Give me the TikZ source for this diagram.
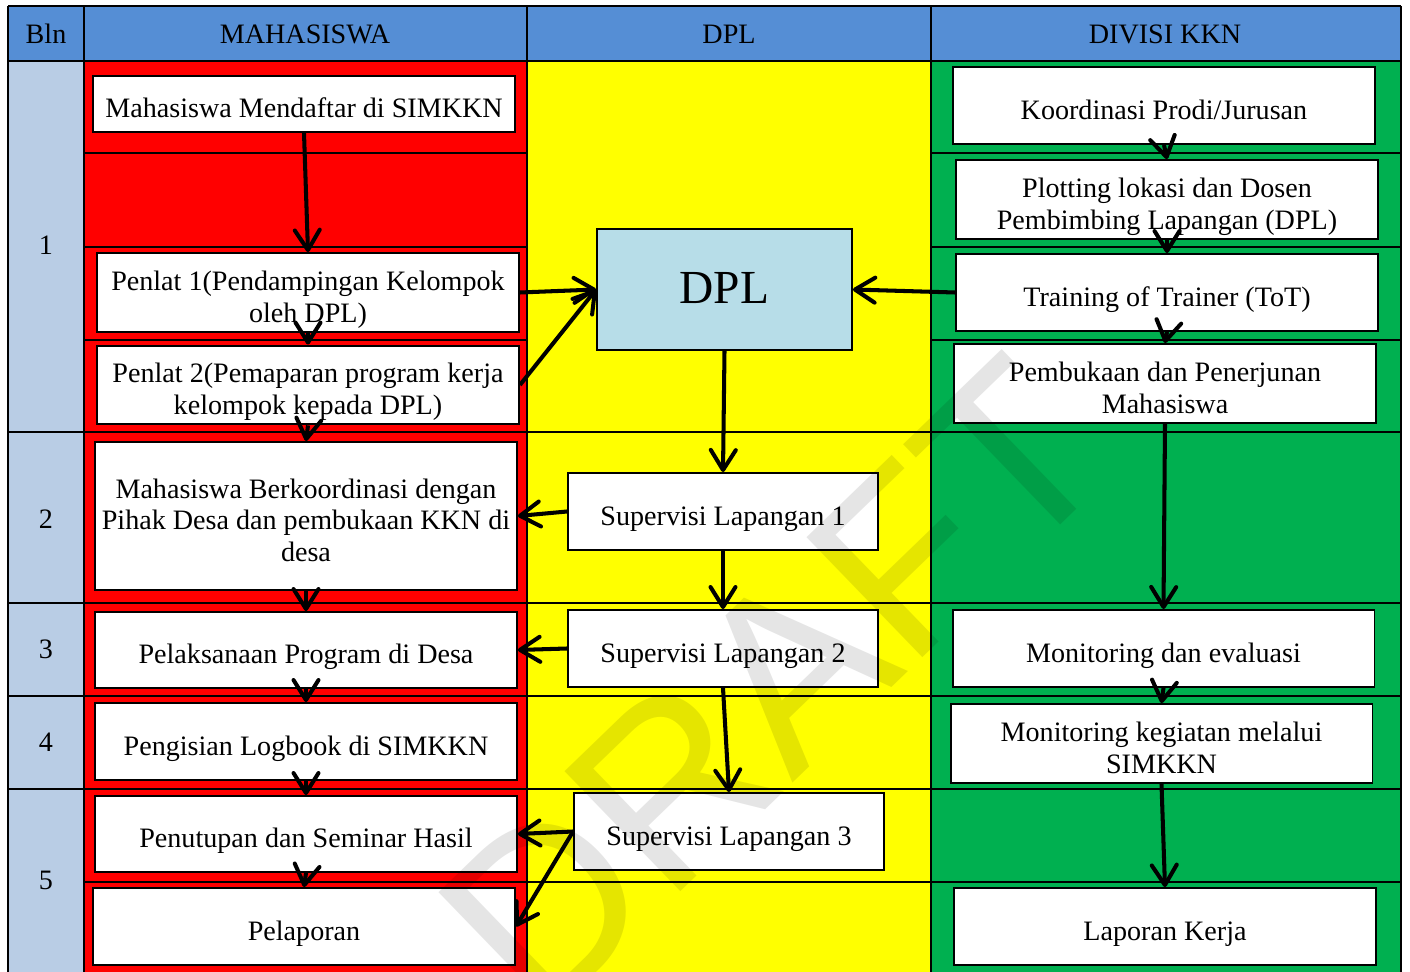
\documentclass[tikz,border=0pt]{standalone}
\usepackage{fontspec}
\setmainfont{Liberation Serif}
\setsansfont{Liberation Sans}
\usetikzlibrary{arrows.meta}
\definecolor{hdrblue}{HTML}{558ED5}
\definecolor{blnblue}{HTML}{B9CDE5}
\definecolor{kknred}{HTML}{FF0000}
\definecolor{kknyellow}{HTML}{FFFF00}
\definecolor{kkngreen}{HTML}{00B050}
\definecolor{dplblue}{HTML}{B7DDE8}
\begin{document}
\begin{tikzpicture}[x=0.02cm,y=-0.02cm,font=\fontsize{16}{18}\selectfont,
    gridline/.style={line width=1.1pt},
    box/.style={draw,fill=white,line width=1.1pt,align=flush center,inner sep=2pt,
      text width=8.3cm,minimum width=8.44cm,minimum height=1.54cm,
      execute at begin node={\rule{0pt}{19.3pt}},
      execute at end node={\rule[-3.6pt]{0pt}{0pt}}}]
    \useasboundingbox (0,0) rectangle (1410,972);
    % kolom dan baris tabel
    \fill[hdrblue] (8,6) rectangle (1401,61);
    \fill[blnblue] (8,61) rectangle (84,972);
    \fill[kknred] (84,61) rectangle (527,972);
    \fill[kknyellow] (527,61) rectangle (931,972);
    \fill[kkngreen] (931,61) rectangle (1401,972);
    \foreach \x in {8,84,527,931,1401} \draw[gridline] (\x,6) -- (\x,972);
    \foreach \y in {6,61,432,603,696,789} \draw[gridline] (8,\y) -- (1401,\y);
    \foreach \y in {153,247,340} {
      \draw[gridline] (84,\y) -- (527,\y);
      \draw[gridline] (931,\y) -- (1401,\y);
    }
    \draw[gridline] (84,882) -- (1401,882);
    \begin{scope}
    \node (h0) at (46,34) {Bln};
    \node (h1) at (305,34) {MAHASISWA};
    \node (h2) at (729,34) {DPL};
    \node (h3) at (1165,34) {DIVISI KKN};
    \node (r1) at (46,245) {1};
    \node (r2) at (46,519) {2};
    \node (r3) at (46,649) {3};
    \node (r4) at (46,742) {4};
    \node (r5) at (46,880) {5};
    \end{scope}
    \begin{scope}[every node/.style={box}]
    \node[minimum height=1.12cm] (m1) at (304,104) {Mahasiswa Mendaftar di SIMKKN};
    \node (m2) at (308,292.5) {Penlat 1(Pendampingan Kelompok\\oleh DPL)};
    \node[minimum height=1.56cm] (m3) at (308,385) {Penlat 2(Pemaparan program kerja\\kelompok kepada DPL)};
    \node[minimum height=2.96cm] (m4) at (306,516) {Mahasiswa Berkoordinasi dengan\\Pihak Desa dan pembukaan KKN di\\desa};
    \node[minimum height=1.52cm] (m5) at (306,650) {Pelaksanaan Program di Desa};
    \node (m6) at (306,741.5) {Pengisian Logbook di SIMKKN};
    \node[minimum height=1.52cm] (m7) at (306,834) {Penutupan dan Seminar Hasil};
    \node (m8) at (304,926.5) {Pelaporan};
    \node[fill=dplblue,text width=4.95cm,minimum width=5.1cm,minimum height=2.42cm,
      font=\fontsize{27}{30}\selectfont,
      execute at begin node={},execute at end node={}] (dpl) at (724.5,289.5) {DPL};
    \node[text width=6.05cm,minimum width=6.2cm] (s1) at (723,511.5) {Supervisi Lapangan 1};
    \node[text width=6.05cm,minimum width=6.2cm] (s2) at (723,648.5) {Supervisi Lapangan 2};
    \node[text width=6.05cm,minimum width=6.2cm] (s3) at (729,831.5) {Supervisi Lapangan 3};
    \node (d1) at (1164,105.5) {Koordinasi Prodi/Jurusan};
    \node (d2) at (1167,199.5) {Plotting lokasi dan Dosen\\Pembimbing Lapangan (DPL)};
    \node (d3) at (1167,292.5) {Training of Trainer (ToT)};
    \node (d4) at (1165,383.5) {Pembukaan dan Penerjunan\\Mahasiswa};
    \node (d5) at (1163.5,648.5) {Monitoring dan evaluasi};
    \node (d6) at (1161.5,743.5) {Monitoring kegiatan melalui\\SIMKKN};
    \node (d7) at (1165,926.5) {Laporan Kerja};
    \end{scope}
    \begin{scope}[every edge/.style={draw,line width=2.3pt,-{Straight Barb[length=0.4cm,width=0.5cm,round]}}]
    \path (m1.south) edge (m2.north);
    \path (m2.south) edge (m3.north);
    \path (m3.south) edge (m4.north);
    \path (m4.south) edge (m5.north);
    \path (m5.south) edge (m6.north);
    \path (m6.south) edge (m7.north);
    \path (m7.south) edge (m8.north);
    \path (m2.east) edge (dpl.west);
    \path (m3.east) edge (dpl.west);
    \path (d3.west) edge (dpl.east);
    \path (dpl.south) edge (s1.north);
    \path (s1.west) edge (m4.east);
    \path (s1.south) edge (s2.north);
    \path (s2.west) edge (m5.east);
    \path (s2.south) edge (s3.north);
    \path (s3.west) edge (m7.east);
    \path (s3.west) edge (m8.east);
    \path (d1.south) edge (d2.north);
    \path (d2.south) edge (d3.north);
    \path (d3.south) edge (d4.north);
    \path (d4.south) edge (d5.north);
    \path (d5.south) edge (d6.north);
    \path (d6.south) edge (d7.north);
    \end{scope}
    % tanda air
    \node[rotate=44,opacity=0.1,font=\fontsize{138}{138}\selectfont\sffamily] (wm) at (773,686) {DRAFT};
\end{tikzpicture}
\end{document}
